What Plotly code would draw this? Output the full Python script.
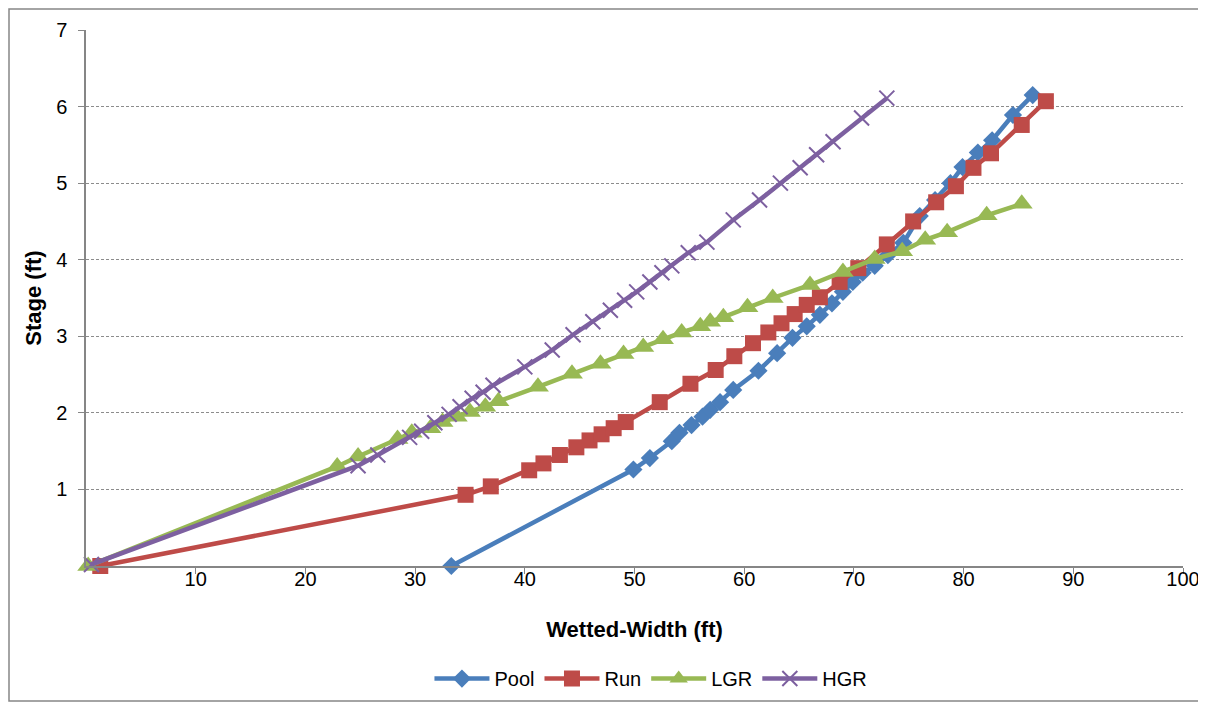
import plotly.graph_objects as go

# ---- data ----
pool_x = [33.3, 49.9, 51.4, 53.4, 54.1, 55.2, 56.2, 56.9, 57.8, 59.0, 61.3, 63.0, 64.4,
          65.7, 66.9, 68.0, 69.0, 69.9, 70.8, 71.9, 73.1, 74.5, 76.0, 77.4, 78.8, 79.9,
          81.3, 82.6, 84.5, 86.3]
pool_y = [0.0, 1.26, 1.41, 1.63, 1.74, 1.84, 1.95, 2.04, 2.14, 2.30, 2.55, 2.78, 2.98,
          3.13, 3.28, 3.43, 3.58, 3.71, 3.83, 3.92, 4.06, 4.22, 4.57, 4.78, 5.0, 5.21,
          5.40, 5.56, 5.89, 6.15]

run_x = [1.3, 34.6, 36.9, 40.4, 41.7, 43.2, 44.7, 45.9, 47.0, 48.1, 49.2, 52.3, 55.1,
         57.4, 59.1, 60.8, 62.2, 63.4, 64.6, 65.7, 66.9, 68.7, 70.4, 73.0, 75.4, 77.5,
         79.3, 80.9, 82.5, 85.3, 87.5]
run_y = [0.0, 0.93, 1.04, 1.25, 1.34, 1.45, 1.55, 1.64, 1.72, 1.80, 1.88, 2.14, 2.38,
         2.56, 2.74, 2.91, 3.05, 3.17, 3.29, 3.41, 3.51, 3.71, 3.89, 4.20, 4.50, 4.75,
         4.96, 5.20, 5.39, 5.76, 6.07]

lgr_x = [0.2, 22.9, 24.8, 28.4, 29.7, 31.4, 32.5, 33.8, 35.0, 36.4, 37.6, 41.2, 44.3,
         46.9, 49.0, 50.8, 52.6, 54.3, 56.0, 56.9, 58.1, 60.3, 62.6, 66.0, 69.0, 71.9,
         74.4, 76.5, 78.5, 82.1, 85.3]
lgr_y = [0.0, 1.30, 1.43, 1.66, 1.74, 1.80, 1.88, 1.95, 2.01, 2.08, 2.15, 2.34, 2.51,
         2.64, 2.77, 2.86, 2.96, 3.05, 3.13, 3.19, 3.25, 3.38, 3.50, 3.67, 3.84, 4.01,
         4.11, 4.26, 4.36, 4.58, 4.73]

hgr_x = [0.5, 24.8, 26.6, 29.5, 30.6, 31.8, 33.1, 34.1, 35.2, 36.2, 37.1, 40.0, 42.5,
         44.4, 46.2, 47.8, 49.1, 50.2, 51.4, 52.5, 53.4, 54.9, 56.6, 59.0, 61.4, 63.3,
         65.1, 66.6, 68.1, 70.7, 73.0]
hgr_y = [0.02, 1.31, 1.45, 1.68, 1.76, 1.87, 1.98, 2.08, 2.19, 2.27, 2.36, 2.60, 2.82,
         3.02, 3.19, 3.34, 3.47, 3.58, 3.71, 3.83, 3.92, 4.09, 4.23, 4.52, 4.78, 5.00,
         5.20, 5.37, 5.54, 5.85, 6.11]

x_ticks = [10, 20, 30, 40, 50, 60, 70, 80, 90, 100]
y_ticks = [1, 2, 3, 4, 5, 6, 7]

FONT = "Arial, 'Liberation Sans', sans-serif"

series = [
    ("Pool", pool_x, pool_y, "#4A7EBB", "diamond", 14, 0),
    ("Run", run_x, run_y, "#BE4B48", "square", 16, 0),
    ("LGR", lgr_x, lgr_y, "#98B954", "triangle-up", 19, 0),
    ("HGR", hgr_x, hgr_y, "#7D60A0", "x-thin", 15, 2),
]

fig = go.Figure()
for name, xs, ys, col, sym, size, lw in series:
    fig.add_trace(go.Scatter(
        x=xs, y=ys, name=name, mode="lines+markers",
        line=dict(color=col, width=4.5),
        marker=dict(symbol=sym, size=size, color=col,
                    line=dict(color=col, width=lw)),
        cliponaxis=False,
    ))

# page body adds an 8px margin; compensate so plot lands where the reference has it
W, H = 1198, 696
L, T, R, B = 78, 22, 23, 138
PW, PH = W - L - R, H - T - B

fig.update_layout(
    width=W, height=H,
    paper_bgcolor="white", plot_bgcolor="white",
    margin=dict(l=L, r=R, t=T, b=B, autoexpand=False),
    font=dict(family=FONT, size=20, color="black"),
    showlegend=True,
    legend=dict(orientation="h", x=0.515, xanchor="center", y=-0.21, yanchor="middle",
                font=dict(size=20, family=FONT), tracegroupgap=0, itemwidth=55),
    xaxis=dict(range=[0, 100], tickvals=x_ticks, showgrid=False, zeroline=False,
               showline=True, linecolor="#868686", linewidth=1.5,
               ticks="outside", ticklen=6, tickcolor="#868686",
               ticklabelstandoff=-12,
               tickfont=dict(size=20, family=FONT), automargin=False,
               title=dict(text="<b>Wetted-Width (ft)</b>", font=dict(size=22, family=FONT),
                          standoff=33)),
    yaxis=dict(range=[0, 7], tickvals=y_ticks, showgrid=True, gridcolor="#8C8C8C",
               griddash="3px,2px", gridwidth=1, zeroline=False,
               showline=True, linecolor="#868686", linewidth=1.5,
               ticks="outside", ticklen=6, tickcolor="#868686",
               ticklabelstandoff=7,
               tickfont=dict(size=20, family=FONT), automargin=False,
               title=dict(text="<b>Stage (ft)</b>", font=dict(size=22, family=FONT),
                          standoff=8)),
)

# outer chart border
fig.add_shape(type="rect", xref="paper", yref="paper",
              x0=(1 - L) / PW, x1=(1192 - L) / PW,
              y0=(T + PH - 693) / PH, y1=(T + PH - 1) / PH,
              line=dict(color="#868686", width=1.5), fillcolor="rgba(0,0,0,0)",
              layer="below")

fig.write_html("out.html")
